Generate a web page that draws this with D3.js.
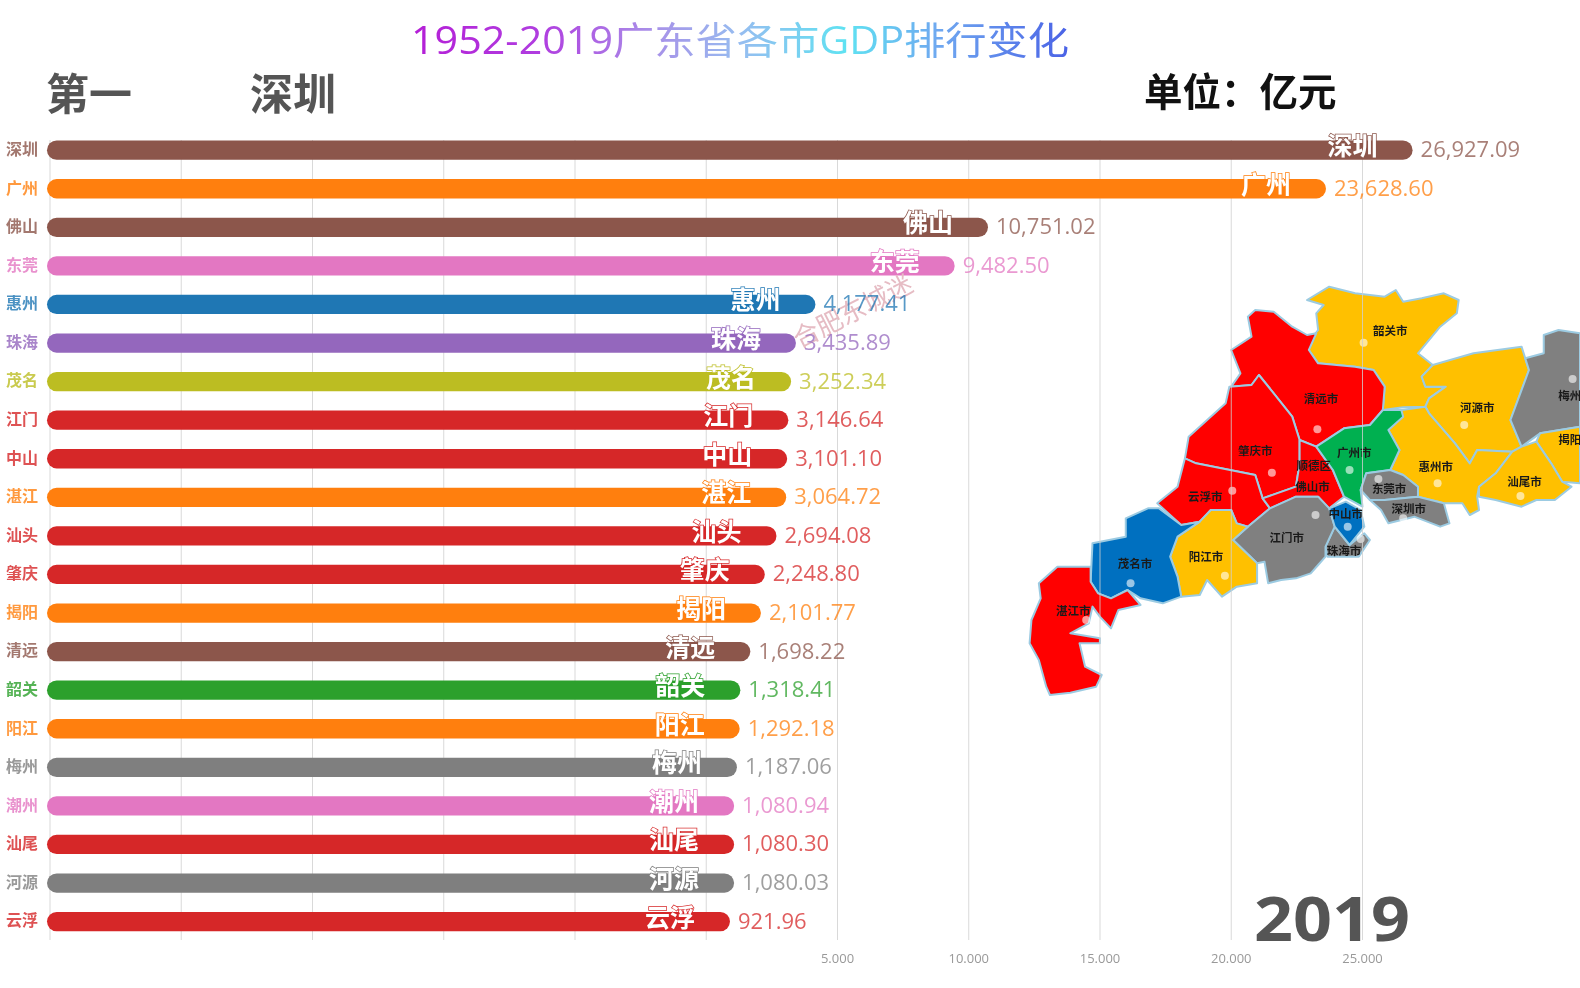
<!DOCTYPE html>
<html><head><meta charset="utf-8">
<style>html,body{margin:0;padding:0;background:#fff;overflow:hidden}svg{display:block;filter:blur(.45px)}</style>
<script src="https://cdn.jsdelivr.net/npm/d3@7/dist/d3.min.js"></script></head>
<body><svg id="c" width="1580" height="988"></svg>
<script>
const cities=["深圳","广州","佛山","东莞","惠州","珠海","茂名","江门","中山","湛江","汕头","肇庆","揭阳","清远","韶关","阳江","梅州","潮州","汕尾","河源","云浮"];
const gdpValues=[26927.09,23628.60,10751.02,9482.50,4177.41,3435.89,3252.34,3146.64,3101.10,3064.72,2694.08,2248.80,2101.77,1698.22,1318.41,1292.18,1187.06,1080.94,1080.30,1080.03,921.96];
const barColors=["#8c564b","#ff7f0e","#8c564b","#e377c2","#1f77b4","#9467bd","#bcbd22","#d62728","#d62728","#ff7f0e","#d62728","#d62728","#ff7f0e","#8c564b","#2ca02c","#ff7f0e","#7f7f7f","#e377c2","#d62728","#7f7f7f","#d62728"];
const tickValues=[-25000,-20000,-15000,-10000,-5000,0,5000,10000,15000,20000,25000];
const barOrigin=-25095;
const titleText="1952-2019广东省各市GDP排行变化";
const rankText="第一", leaderText="深圳", unitText="单位：亿元", yearText="2019", markText="合肥东城迷";

// decorative map of Guangdong, traced in picture units
const mapRegions=[
 {n:"韶关市",f:"#ffc000",p:[[830,90],[890,50],[960,70],[1040,80],[1070,60],[1090,95],[1140,85],[1200,70],[1240,90],[1235,130],[1190,170],[1130,250],[1170,285],[1140,320],[1150,350],[1205,350],[1160,385],[1150,410],[1090,412],[1035,420],[1040,350],[1010,300],[960,290],[860,280],[835,240],[835,215],[860,180],[855,130],[875,105]],l:[1055,182],d:[983,218]},
 {n:"清远市",f:"#ff0000",p:[[670,140],[690,120],[740,125],[790,170],[830,195],[855,190],[835,240],[860,280],[960,290],[1010,300],[1040,350],[1035,420],[1000,465],[930,475],[855,530],[810,510],[790,440],[740,370],[700,315],[680,345],[625,350],[650,310],[625,240],[680,200]],l:[868,388],d:[858,478]},
 {n:"肇庆市",f:"#ff0000",p:[[620,350],[680,345],[700,315],[740,370],[790,440],[810,510],[810,580],[800,650],[710,685],[690,615],[530,580],[500,565],[510,500],[560,450],[610,400]],l:[690,543],d:[735,608]},
 {n:"云浮市",f:"#ff0000",p:[[500,565],[530,580],[690,615],[710,685],[730,715],[670,770],[640,760],[625,720],[570,720],[540,755],[490,765],[425,700],[480,650]],l:[555,680],d:[628,662]},
 {n:"佛山市",f:"#ff0000",p:[[810,510],[855,530],[900,600],[930,680],[890,715],[860,680],[800,680],[730,715],[710,685],[800,650],[810,580]],l:[845,652],d:null},
 {n:"河源市",f:"#ffc000",p:[[1170,285],[1280,250],[1410,230],[1430,300],[1380,450],[1410,530],[1385,545],[1290,540],[1270,580],[1230,520],[1160,430],[1150,410],[1160,385],[1205,350],[1150,350],[1140,320]],l:[1290,413],d:[1255,465]},
 {n:"惠州市",f:"#ffc000",p:[[1085,420],[1150,410],[1160,430],[1230,520],[1270,580],[1290,540],[1385,545],[1340,610],[1295,650],[1290,680],[1295,720],[1270,735],[1250,700],[1200,700],[1130,680],[1130,650],[1090,615],[1055,600],[1080,540],[1050,480]],l:[1178,592],d:[1183,640]},
 {n:"广州市",f:"#00b050",p:[[1035,420],[1085,420],[1090,440],[1050,480],[1080,540],[1055,600],[990,610],[975,660],[980,710],[930,680],[900,600],[855,530],[930,475],[1000,465]],l:[958,548],d:[945,600]},
 {n:"梅州",f:"#808080",p:[[1470,195],[1510,180],[1568,190],[1568,470],[1460,490],[1410,530],[1380,450],[1430,300],[1420,265],[1470,250]],l:[1540,378],d:[1548,327]},
 {n:"揭阳",f:"#ffc000",p:[[1450,515],[1460,490],[1568,470],[1568,640],[1520,635],[1490,580]],l:[1540,510],d:null},
 {n:"汕尾市",f:"#ffc000",p:[[1410,530],[1450,515],[1490,580],[1520,635],[1545,650],[1500,690],[1450,690],[1410,710],[1340,690],[1295,680],[1295,650],[1340,610],[1385,545]],l:[1418,635],d:[1407,678]},
 {n:"东莞市",f:"#808080",p:[[990,610],[1055,600],[1090,615],[1130,650],[1130,680],[1040,690],[1000,690],[975,660]],l:[1052,658],d:[1023,627]},
 {n:"深圳市",f:"#808080",p:[[1000,690],[1040,690],[1130,680],[1200,700],[1215,760],[1190,770],[1120,740],[1050,760],[1030,720]],l:[1105,718],d:[1090,745]},
 {n:"珠海市",f:"#808080",p:[[905,770],[945,825],[985,790],[1000,810],[970,860],[885,860],[880,830]],l:[930,842],d:[975,807]},
 {n:"江门市",f:"#808080",p:[[630,810],[670,770],[730,715],[800,680],[860,680],[890,715],[905,770],[880,830],[880,860],[860,885],[840,910],[800,925],[760,930],[725,940],[715,875],[695,880]],l:[775,803],d:[853,735]},
 {n:"中山市",f:"#0070c0",p:[[890,715],[935,695],[975,720],[985,770],[945,825],[905,770]],l:[935,733],d:[940,770]},
 {n:"阳江市",f:"#ffc000",p:[[460,860],[480,800],[540,755],[570,720],[625,720],[640,760],[670,770],[630,810],[695,880],[695,940],[640,950],[600,980],[560,930],[540,975],[490,980],[480,920]],l:[557,860],d:[608,917]},
 {n:"茂名市",f:"#0070c0",p:[[340,745],[400,715],[430,715],[490,765],[540,755],[480,800],[460,860],[480,920],[490,980],[440,1000],[380,985],[345,960],[300,985],[265,970],[245,935],[250,820],[340,800]],l:[365,883],d:[353,940]},
 {n:"湛江市",f:"#ff0000",p:[[155,890],[245,890],[245,935],[265,970],[300,985],[345,960],[380,1005],[320,1020],[300,1075],[270,1040],[250,1010],[240,1060],[190,1090],[270,1105],[270,1120],[215,1120],[230,1190],[275,1215],[260,1250],[190,1268],[135,1275],[125,1250],[105,1170],[80,1120],[85,1050],[110,985],[105,940]],l:[198,1023],d:[233,1050]}
];
const mapExtraLabels=[{n:"顺德区",l:[848,587]}];

const svg=d3.select("#c");
const sans='"Open Sans","Noto Sans CJK SC",sans-serif', cjk='"Noto Sans CJK SC",sans-serif';

// scales
const x=d3.scaleLinear().domain([-25000,25000]).range([49.5,1362]);
const y=d3.scaleBand().domain(cities).range([130.9,940.9]).paddingInner(0.5).paddingOuter(0.25);
const mx=d3.scaleLinear().domain([0,1568]).range([1000,1580]);
const my=d3.scaleLinear().domain([0,1320]).range([270,710]);

// gradient for the title
const defs=svg.append("defs");
const g=defs.append("linearGradient").attr("id","tg").attr("gradientUnits","userSpaceOnUse").attr("x1",411).attr("x2",1070).attr("y1",0).attr("y2",0);
[[0,"#b41ed6"],[.2,"#b03ee0"],[.36,"#a98ee8"],[.5,"#96bdf0"],[.66,"#5fe2f2"],[.8,"#6fa8f0"],[1,"#4a62e6"]].forEach(s=>g.append("stop").attr("offset",s[0]).attr("stop-color",s[1]));

// map
const mapG=svg.append("g");
const line=d3.line().x(d=>mx(d[0])).y(d=>my(d[1])).curve(d3.curveLinearClosed);
mapG.selectAll("path").data(mapRegions).join("path").attr("d",d=>line(d.p)).attr("fill",d=>d.f)
  .attr("stroke","#9ccbe2").attr("stroke-width",2).attr("stroke-linejoin","round");
mapG.selectAll("circle").data(mapRegions.filter(d=>d.d)).join("circle").attr("cx",d=>mx(d.d[0])).attr("cy",d=>my(d.d[1])).attr("r",4)
  .attr("fill","#fff").attr("fill-opacity",.6);
mapG.selectAll("text").data(mapRegions.concat(mapExtraLabels)).join("text").attr("x",d=>mx(d.l[0])).attr("y",d=>my(d.l[1])).attr("dy","0.35em")
  .attr("text-anchor","middle").attr("font-family",cjk).attr("font-weight",700).attr("font-size",11.5).attr("fill","#1a1a1a").text(d=>d.n);

// axis
const fmtLocale=d3.formatLocale({decimal:",",thousands:".",grouping:[3],currency:["",""]});
const axis=d3.axisBottom(x).tickValues(tickValues).tickSize(-800).tickPadding(14).tickFormat(d=>d>0?fmtLocale.format(",")(d):"");
const ax=svg.append("g").attr("transform","translate(0,940)").call(axis);
ax.select(".domain").remove();
ax.selectAll("line").attr("stroke","#cfcfcf").attr("stroke-opacity",.8).attr("stroke-width",1);
ax.selectAll("text").attr("font-family",sans).attr("font-size",13).attr("fill","#999");

// bars
const rows=cities.map((c,i)=>({c,v:gdpValues[i],col:barColors[i]}));
const h=y.bandwidth();
svg.append("g").selectAll("rect").data(rows).join("rect")
  .attr("x",x(barOrigin)).attr("y",d=>y(d.c)).attr("width",d=>x(d.v)-x(barOrigin)).attr("height",h)
  .attr("rx",h/2).attr("fill",d=>d.col);

// left labels
svg.append("g").selectAll("text").data(rows).join("text")
  .attr("x",38).attr("y",d=>y(d.c)+h/2-1).attr("dy","0.36em").attr("text-anchor","end")
  .attr("font-family",cjk).attr("font-size",16).attr("font-weight",700).attr("fill",d=>d.col).attr("fill-opacity",.8).text(d=>d.c);

// watermark
svg.append("text").attr("transform","translate(799,349) rotate(-27)").attr("font-family",cjk).attr("font-size",26).attr("fill","#e6bcc4").text(markText);

// value labels
svg.append("g").selectAll("text").data(rows).join("text")
  .attr("x",d=>x(d.v)+8).attr("y",d=>y(d.c)+h/2-1).attr("dy","0.36em")
  .attr("font-family",sans).attr("font-size",22).attr("fill",d=>d.col).attr("fill-opacity",.75)
  .text(d=>d3.format(",.2f")(d.v));

// in-bar labels
svg.append("g").selectAll("text").data(rows).join("text")
  .attr("x",d=>x(d.v)-35).attr("y",d=>y(d.c)+h/2-4).attr("dy","0.36em").attr("text-anchor","end")
  .attr("font-family",cjk).attr("font-weight",700).attr("font-size",25).attr("fill","#fff")
  .attr("stroke",d=>d.col).attr("stroke-width",1.5).attr("paint-order","stroke").text(d=>d.c);

// titles
svg.append("text").attr("x",411).attr("y",40).attr("dy","0.36em").attr("font-family",sans).attr("font-size",38).attr("font-weight",400)
  .attr("fill","url(#tg)").attr("textLength",658).attr("lengthAdjust","spacingAndGlyphs").text(titleText);
svg.append("text").attr("x",46).attr("y",95).attr("dy","0.36em").attr("font-family",cjk).attr("font-size",43).attr("font-weight",700).attr("fill","#555").text(rankText);
svg.append("text").attr("x",250).attr("y",95).attr("dy","0.36em").attr("font-family",cjk).attr("font-size",43).attr("font-weight",700).attr("fill","#555").text(leaderText);
svg.append("text").attr("x",1144).attr("y",92).attr("dy","0.36em").attr("font-family",cjk).attr("font-size",38.5).attr("font-weight",700).attr("fill","#111").text(unitText);
svg.append("text").attr("x",1254).attr("y",941).attr("font-family",'"Open Sans",sans-serif').attr("font-size",60).attr("font-weight",700).attr("fill","#555")
  .attr("textLength",156).attr("lengthAdjust","spacingAndGlyphs").text(yearText);
</script></body></html>
